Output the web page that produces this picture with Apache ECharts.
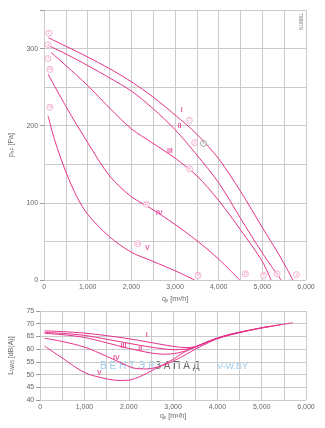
<!DOCTYPE html>
<html><head><meta charset="utf-8">
<script src="https://cdn.jsdelivr.net/npm/echarts@6/dist/echarts.min.js"></script>
<style>html,body{margin:0;padding:0;background:#fff}#c{width:325px;height:428px}</style>
</head><body><div id="c"></div>
<script>
// ---- data ----
const flowMax = 6000;
const pressureMax = 350;
const soundMin = 40, soundMax = 75;

const pressureI   = [[100,314],[500,303],[1000,289],[1500,274],[2000,257],[2500,237],[3000,214],[3500,189],[4000,157],[4500,115],[5000,68],[5400,31],[5700,0]];
const pressureII  = [[100,304],[500,293],[1000,278],[1500,262],[2000,245],[2500,222],[3000,195],[3500,162],[4000,126],[4500,80],[5000,35],[5430,0]];
const pressureIII = [[160,295],[500,278],[1000,252],[1500,223],[2000,196],[2500,177],[3000,158],[3500,135],[4000,103],[4500,65],[5000,24],[5200,0]];
const pressureIV  = [[90,267],[500,225],[1000,178],[1500,135],[2000,108],[2500,91],[3000,72],[3500,51],[4000,27],[4480,0]];
const pressureV   = [[90,213],[250,180],[500,140],[750,108],[1000,85],[1500,56],[2000,36],[2500,24],[3000,12],[3450,0]];

const soundI   = [[100,67.2],[500,66.9],[1000,66.3],[1500,65.3],[2000,64.1],[2500,62.6],[3000,61.1],[3300,60.6],[3500,61],[3750,62.8],[4000,64.4],[4250,65.7],[4500,66.7],[5000,68.4],[5500,69.8],[5700,70.4]];
const soundII  = [[100,66.6],[500,66.2],[1000,65.4],[1500,63.9],[2000,62.3],[2500,60.8],[3000,59.8],[3300,60],[3500,60.9],[3750,62.7],[4000,64.3],[4250,65.6],[4500,66.6],[5000,68.4],[5430,69.6]];
const soundIII = [[100,66.2],[500,65.7],[1000,64.6],[1500,62.5],[2000,60.3],[2500,58.5],[2800,58],[3100,58.5],[3400,60],[3750,62.6],[4000,64.2],[4250,65.5],[4500,66.5],[5000,68.3],[5200,68.9]];
const soundIV  = [[100,64.3],[500,63],[1000,60.8],[1500,57.2],[1800,54.8],[2100,52.6],[2400,52.2],[2700,53.2],[3000,55.3],[3300,58],[3600,60.9],[4000,64.1],[4250,65.4],[4480,66.4]];
const soundV   = [[100,61.2],[500,56.5],[1000,50.8],[1500,48.3],[1800,47.7],[2000,47.8],[2300,49.6],[2700,53.2],[3000,56],[3200,58.3],[3450,60.6]];

// circled operating-point numbers [flow, pressure, number]
const pointMarks = [[111,320,'1'],[3326,207,'2'],[5780,7,'3'],[89,305,'4'],[3452,178,'5'],[5337,8,'6'],
                    [89,287,'7'],[3333,144,'8'],[5027,6,'9'],[133,273,'10'],[2344,98,'11'],[4612,8,'12'],
                    [133,224,'13'],[2144,47,'14'],[3525,6,'15']];
const greyMarks = [[3652,177,'3']];
const pressureCurveNames = [[3155,220,'I'],[3104,200,'II'],[2882,167,'III'],[2639,87,'IV'],[2366,41,'V']];
const soundCurveNames = [[2407,65.5,'I'],[2259,60.2,'II'],[1881,61.2,'III'],[1718,56.6,'IV'],[1333,50.4,'V']];

// ---- chart ----
const PINK = '#e5318a';
const GRID = '#cbcbcb';
const TXT = '#666';
const FONT = 'Liberation Sans, Arial, sans-serif';

function fmtFlow(v){ return v % 1000 === 0 ? (v === 0 ? '0' : (v/1000) + ',000') : ''; }

function xAxisDef(gi){
  return {
    type:'value', gridIndex:gi, min:0, max:flowMax, interval:500,
    axisLine:{show:true, lineStyle:{color:GRID}},
    axisTick:{show:false},
    splitLine:{show:true, lineStyle:{color:GRID, width:1}},
    axisLabel:{formatter:fmtFlow, fontSize:7, color:TXT, margin:4, fontFamily:FONT},
    name:'{q|q}{s|v} [m³/h]', nameLocation:'middle', nameGap:12,
    nameTextStyle:{fontSize:7, color:TXT, fontFamily:FONT,
      rich:{q:{fontSize:7,color:TXT,fontFamily:FONT}, s:{fontSize:5,color:TXT,verticalAlign:'bottom',padding:[3,0,0,0],fontFamily:FONT}}}
  };
}

const lineSeries = (data, xi, yi) => ({
  type:'line', data, xAxisIndex:xi, yAxisIndex:yi, smooth:0.3,
  symbol:'none', lineStyle:{color:PINK, width:1}, silent:true, z:3
});

const nameSeries = (data, xi, yi) => ({
  type:'scatter', data, xAxisIndex:xi, yAxisIndex:yi, symbolSize:1, itemStyle:{color:'rgba(0,0,0,0)'},
  label:{show:true, position:'inside', formatter:p=>p.value[2], color:PINK, fontSize:7, fontWeight:'bold', fontFamily:FONT},
  silent:true, z:4
});

const chart = echarts.init(document.getElementById('c'), null, {renderer:'canvas'});
chart.setOption({
  backgroundColor:'#fff',
  animation:false,
  grid:[
    {left:36, right:19, top:10, height:270},
    {left:36, right:19, top:311, height:89}
  ],
  xAxis:[xAxisDef(0), xAxisDef(1)],
  yAxis:[
    { type:'value', gridIndex:0, min:0, max:pressureMax, interval:50,
      axisLine:{show:true, lineStyle:{color:GRID}}, axisTick:{show:false},
      splitLine:{show:true, lineStyle:{color:GRID}},
      axisLabel:{formatter:v => v % 100 === 0 ? String(v) : '', fontSize:7, color:TXT, margin:6, fontFamily:FONT},
      name:'{p|p}{s|sF} [Pa]', nameLocation:'middle', nameGap:19,
      nameTextStyle:{fontSize:7, color:TXT, fontFamily:FONT,
        rich:{p:{fontSize:7,color:TXT,fontFamily:FONT}, s:{fontSize:5,color:TXT,fontFamily:FONT,verticalAlign:'bottom',padding:[3,0,0,0]}}}
    },
    { type:'value', gridIndex:0, min:0, max:pressureMax, interval:100, position:'left',
      axisLine:{show:false}, axisLabel:{show:false}, splitLine:{show:false},
      axisTick:{show:true, length:4, lineStyle:{color:'#999'}} },
    { type:'value', gridIndex:1, min:soundMin, max:soundMax, interval:5,
      axisLine:{show:true, lineStyle:{color:GRID}},
      axisTick:{show:true, length:4, lineStyle:{color:'#999'}},
      splitLine:{show:true, lineStyle:{color:GRID}},
      axisLabel:{fontSize:7, color:TXT, margin:6, fontFamily:FONT},
      name:'{l|L}{s|WA5} [dB(A)]', nameLocation:'middle', nameGap:17,
      nameTextStyle:{fontSize:7, color:TXT, fontFamily:FONT,
        rich:{l:{fontSize:7,color:TXT,fontFamily:FONT}, s:{fontSize:5,color:TXT,fontFamily:FONT,verticalAlign:'bottom',padding:[3,0,0,0]}}}
    }
  ],
  graphic:[
    { type:'text', left:298, top:13, rotation:-Math.PI/2, originX:0, originY:0,
      style:{text:'796679', fontSize:5, fill:'#777', fontFamily:FONT} },
    { type:'text', left:100, top:361, style:{text:'В Е Н Т Э Л', fontSize:10, fill:'#9ccbeb', fontFamily:FONT} },
    { type:'text', left:155, top:361, style:{text:'З А П А Д', fontSize:10, fill:'#6a6a6a', fontFamily:FONT} },
    { type:'text', left:217, top:362, style:{text:'V-W.BY', fontSize:9, fill:'#9ccbeb', fontFamily:FONT} }
  ],
  series:[
    lineSeries(pressureI,0,0), lineSeries(pressureII,0,0), lineSeries(pressureIII,0,0),
    lineSeries(pressureIV,0,0), lineSeries(pressureV,0,0),
    lineSeries(soundI,1,2), lineSeries(soundII,1,2), lineSeries(soundIII,1,2),
    lineSeries(soundIV,1,2), lineSeries(soundV,1,2),
    nameSeries(pressureCurveNames,0,0), nameSeries(soundCurveNames,1,2),
    { type:'scatter', data:pointMarks, xAxisIndex:0, yAxisIndex:0, symbol:'circle', symbolSize:6,
      itemStyle:{color:'#fff', borderColor:'#ef86b6', borderWidth:0.8},
      label:{show:true, position:'inside', formatter:p=>p.value[2], fontSize:3.5, color:'#e5589a', fontFamily:FONT},
      silent:true, z:5 },
    { type:'scatter', data:greyMarks, xAxisIndex:0, yAxisIndex:0, symbol:'circle', symbolSize:6,
      itemStyle:{color:'#fff', borderColor:'#777', borderWidth:0.8},
      label:{show:true, position:'inside', formatter:p=>p.value[2], fontSize:3.5, color:'#555', fontFamily:FONT},
      silent:true, z:5 }
  ]
});
</script></body></html>
